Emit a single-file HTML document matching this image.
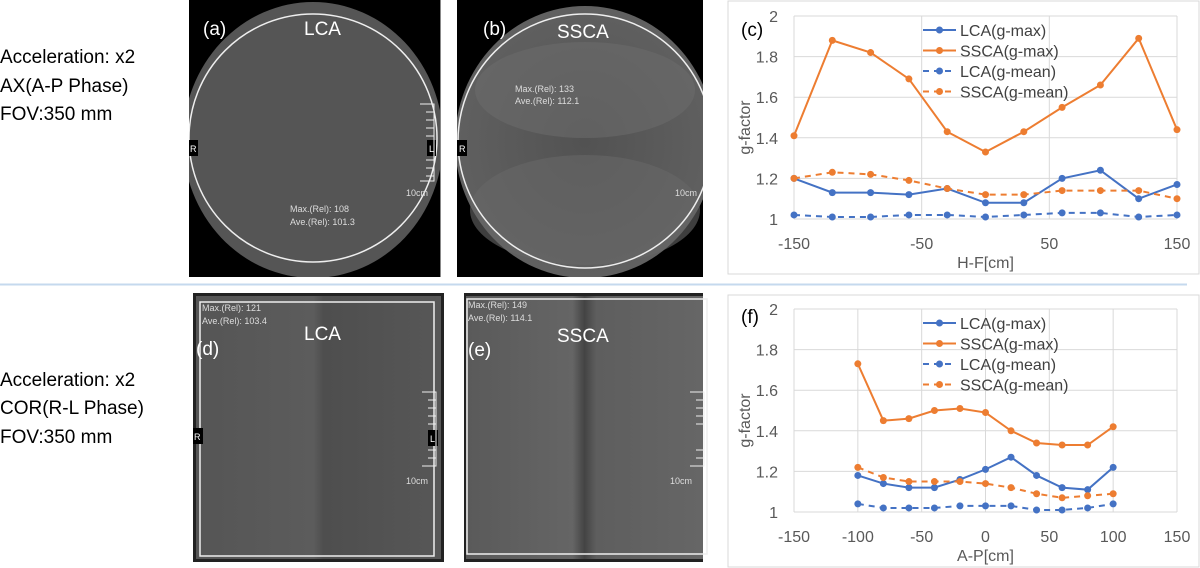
<!DOCTYPE html>
<html><head><meta charset="utf-8"><style>
html,body{margin:0;padding:0;background:#fff;}
svg{display:block;font-family:"Liberation Sans",sans-serif;}
</style></head><body>
<svg id="fig" width="1200" height="568" viewBox="0 0 1200 568">
<defs>
<radialGradient id="gb" cx="50%" cy="50%" r="50%"><stop offset="0" stop-color="#525252"/><stop offset="1" stop-color="#606060"/></radialGradient>
<linearGradient id="ge" x1="0" x2="1"><stop offset="0" stop-color="#5a5a5a"/><stop offset="0.45" stop-color="#656565"/><stop offset="0.5" stop-color="#444"/><stop offset="0.55" stop-color="#5e5e5e"/><stop offset="1" stop-color="#666"/></linearGradient>
<linearGradient id="gd" x1="0" x2="1"><stop offset="0" stop-color="#555"/><stop offset="0.48" stop-color="#5c5c5c"/><stop offset="0.52" stop-color="#4e4e4e"/><stop offset="1" stop-color="#575757"/></linearGradient>
<clipPath id="ca"><rect x="189" y="0" width="251" height="277"/></clipPath>
<clipPath id="cb"><rect x="457" y="0" width="246" height="277"/></clipPath>
</defs>
<g font-size="19" fill="#000">
<text x="0" y="63">Acceleration: x2</text><text x="0" y="92">AX(A-P Phase)</text><text x="0" y="120">FOV:350 mm</text></g>
<g font-size="19" fill="#000">
<text x="0" y="386">Acceleration: x2</text><text x="0" y="414">COR(R-L Phase)</text><text x="0" y="443">FOV:350 mm</text></g>
<line x1="0" y1="284.5" x2="1187" y2="284.5" stroke="#c5d9ee" stroke-width="2"/>

<g>
<rect x="189" y="0" width="251" height="277" fill="#000"/>
<g clip-path="url(#ca)">
<ellipse cx="313" cy="140" rx="130" ry="138" fill="#555"/>
<ellipse cx="313" cy="138" rx="124" ry="124" fill="none" stroke="#eee" stroke-width="1.5"/>
</g>
<line x1="440.5" y1="0" x2="440.5" y2="277" stroke="#888"/>
<text x="203" y="35" fill="#fff" font-size="19">(a)</text>
<text x="304" y="35" fill="#fff" font-size="19">LCA</text>
<text x="290" y="212" fill="#ddd" font-size="9">Max.(Rel): 108</text>
<text x="290" y="225" fill="#ddd" font-size="9">Ave.(Rel): 101.3</text>
<text x="406" y="196" fill="#ddd" font-size="9">10cm</text>
<rect x="189" y="140" width="9" height="16" fill="#000"/><text x="190" y="152" fill="#fff" font-size="9">R</text>
<rect x="427" y="140" width="9" height="16" fill="#000"/><text x="429" y="152" fill="#fff" font-size="9">L</text>
<path d="M420 104h14v77h-14M426 112h8M426 120h8M426 128h8M426 136h8M426 160h8M426 168h8M426 176h8" stroke="#eee" fill="none"/>
</g>
<g>
<rect x="457" y="0" width="246" height="277" fill="#000"/>
<g clip-path="url(#cb)">
<ellipse cx="585" cy="142" rx="130" ry="136" fill="url(#gb)"/>
<ellipse cx="585" cy="90" rx="110" ry="48" fill="#6a6a6a" opacity="0.6"/>
<ellipse cx="585" cy="210" rx="115" ry="55" fill="#676767" opacity="0.6"/>
<ellipse cx="585" cy="141" rx="127" ry="127" fill="none" stroke="#eee" stroke-width="1.5"/>
</g>
<text x="483" y="35" fill="#fff" font-size="19">(b)</text>
<text x="557" y="38" fill="#fff" font-size="19">SSCA</text>
<text x="515" y="92" fill="#ddd" font-size="9">Max.(Rel): 133</text>
<text x="515" y="104" fill="#ddd" font-size="9">Ave.(Rel): 112.1</text>
<text x="675" y="196" fill="#ddd" font-size="9">10cm</text>
<rect x="457" y="140" width="10" height="16" fill="#000"/><text x="459" y="152" fill="#fff" font-size="9">R</text>
</g>
<g>
<rect x="193" y="293" width="251" height="269" fill="#222"/>
<rect x="196" y="296" width="245" height="263" fill="url(#gd)"/>
<rect x="200" y="302" width="234" height="254" fill="none" stroke="#eee" stroke-width="1.5"/>
<text x="202" y="311" fill="#ddd" font-size="9">Max.(Rel): 121</text>
<text x="202" y="324" fill="#ddd" font-size="9">Ave.(Rel): 103.4</text>
<text x="196" y="355" fill="#fff" font-size="19">(d)</text>
<text x="304" y="340" fill="#fff" font-size="19">LCA</text>
<rect x="193" y="428" width="10" height="16" fill="#000"/><text x="194" y="440" fill="#fff" font-size="9">R</text>
<rect x="428" y="430" width="10" height="16" fill="#000"/><text x="430" y="442" fill="#fff" font-size="9">L</text>
<text x="406" y="484" fill="#ddd" font-size="9">10cm</text>
<path d="M422 392h14v74h-14M428 400h8M428 408h8M428 416h8M428 424h8M428 450h8M428 458h8" stroke="#eee" fill="none"/>
</g>
<g>
<rect x="464" y="293" width="239" height="269" fill="#222"/>
<rect x="466" y="296" width="237" height="263" fill="url(#ge)"/>
<rect x="467" y="299" width="240" height="255" fill="none" stroke="#eee" stroke-width="1.5"/>
<text x="468" y="308" fill="#ddd" font-size="9">Max.(Rel): 149</text>
<text x="468" y="321" fill="#ddd" font-size="9">Ave.(Rel): 114.1</text>
<text x="468" y="356" fill="#fff" font-size="19">(e)</text>
<text x="557" y="342" fill="#fff" font-size="19">SSCA</text>
<text x="670" y="484" fill="#ddd" font-size="9">10cm</text>
<path d="M690 392h14v74h-14M696 400h8M696 408h8M696 416h8M696 424h8M696 450h8M696 458h8" stroke="#eee" fill="none"/>
</g>

<g id="chartC"></g>
<g id="chartF"></g>
</svg>
<script>
const xsC = [-150,-120,-90,-60,-30,0,30,60,90,120,150];
const ssMaxC = [1.41,1.88,1.82,1.69,1.43,1.33,1.43,1.55,1.66,1.89,1.44];
const lcMaxC = [1.20,1.13,1.13,1.12,1.15,1.08,1.08,1.20,1.24,1.10,1.17];
const ssMeanC = [1.20,1.23,1.22,1.19,1.15,1.12,1.12,1.14,1.14,1.14,1.10];
const lcMeanC = [1.02,1.01,1.01,1.02,1.02,1.01,1.02,1.03,1.03,1.01,1.02];
const xTicksC = [-150,-50,50,150];
const xsF = [-100,-80,-60,-40,-20,0,20,40,60,80,100];
const ssMaxF = [1.73,1.45,1.46,1.50,1.51,1.49,1.40,1.34,1.33,1.33,1.42];
const lcMaxF = [1.18,1.14,1.12,1.12,1.16,1.21,1.27,1.18,1.12,1.11,1.22];
const ssMeanF = [1.22,1.17,1.15,1.15,1.15,1.14,1.12,1.09,1.07,1.08,1.09];
const lcMeanF = [1.04,1.02,1.02,1.02,1.03,1.03,1.03,1.01,1.01,1.02,1.04];
const xTicksF = [-150,-100,-50,0,50,100,150];
const yTicks = [1,1.2,1.4,1.6,1.8,2];
const legendLabels = ["LCA(g-max)","SSCA(g-max)","LCA(g-mean)","SSCA(g-mean)"];
const NS="http://www.w3.org/2000/svg";
function mk(p,tag,attrs){const e=document.createElementNS(NS,tag);for(const k in attrs)e.setAttribute(k,attrs[k]);p.appendChild(e);return e;}
function drawChart(g,cfg){
  const L=794,R=1177,T=cfg.top,B=cfg.bottom;
  const sx=v=>L+(v+150)/300*(R-L), sy=v=>B-(v-1)*(B-T);
  const fr=mk(g,'rect',{x:cfg.fx,y:cfg.fy,width:cfg.fw,height:cfg.fh,fill:'#fff',stroke:'#d9d9d9'});
  
  yTicks.forEach(v=>{
    const l=mk(g,'line',{x1:L,x2:R,y1:sy(v),y2:sy(v),stroke:'#d9d9d9'});
    
    const t=mk(g,'text',{x:L-16,y:sy(v)+6,'text-anchor':'end','font-size':'16',fill:'#595959'});t.textContent=String(v);
    
  });
  cfg.xt.forEach(v=>{
    const l=mk(g,'line',{x1:sx(v),x2:sx(v),y1:T,y2:B,stroke:'#d9d9d9'});
    
    const t=mk(g,'text',{x:sx(v),y:B+30,'text-anchor':'middle','font-size':'16',fill:'#595959'});t.textContent=String(v);
    
  });
  const xt=mk(g,'text',{x:(L+R)/2,y:B+49,'text-anchor':'middle','font-size':'16',fill:'#595959'});xt.textContent=cfg.xlabel;
  
  const yt=mk(g,'text',{x:0,y:0,'text-anchor':'middle','font-size':'16',fill:'#595959',transform:`translate(${L-44},${(T+B)/2+10}) rotate(-90)`});yt.textContent='g-factor';
  
  const pl=mk(g,'text',{x:cfg.fx+13,y:T+cfg.plOff,'font-size':'19',fill:'#000'});pl.textContent=cfg.panel;
  
  const series=[[cfg.s[0],'#4472c4',null],[cfg.s[1],'#ed7d31',null],[cfg.s[2],'#4472c4','6,5'],[cfg.s[3],'#ed7d31','6,5']];
  series.forEach(([vals,c,d],i)=>{
    const pts=cfg.xs.map((x,j)=>sx(x)+','+sy(vals[j])).join(' ');
    const a={points:pts,fill:'none',stroke:c,'stroke-width':'2'};if(d)a['stroke-dasharray']=d;
    const pl=mk(g,'polyline',a);
    
    cfg.xs.forEach((x,j)=>{const m=mk(g,'circle',{cx:sx(x),cy:sy(vals[j]),r:3.5,fill:c});
      });
    const ly=T+cfg.legOff+i*20.5, lx=923;
    const la={x1:lx,x2:lx+33,y1:ly,y2:ly,stroke:c,'stroke-width':'2'};if(d)la['stroke-dasharray']=d;
    const ll=mk(g,'line',la);
    mk(g,'circle',{cx:lx+16.5,cy:ly,r:3.5,fill:c});
    const lt=mk(g,'text',{x:lx+37,y:ly+6,'font-size':'16',fill:'#404040'});lt.textContent=legendLabels[i];
    
  });
}
drawChart(document.getElementById('chartC'),{top:16,bottom:219,fx:728,fy:1,fw:471,fh:273,xt:xTicksC,xs:xsC,s:[lcMaxC,ssMaxC,lcMeanC,ssMeanC],xlabel:'H-F[cm]',panel:'(c)',plOff:20,legOff:14});
drawChart(document.getElementById('chartF'),{top:309,bottom:512,fx:728,fy:295,fw:471,fh:272,xt:xTicksF,xs:xsF,s:[lcMaxF,ssMaxF,lcMeanF,ssMeanF],xlabel:'A-P[cm]',panel:'(f)',plOff:14,legOff:14});
</script>
</body></html>
